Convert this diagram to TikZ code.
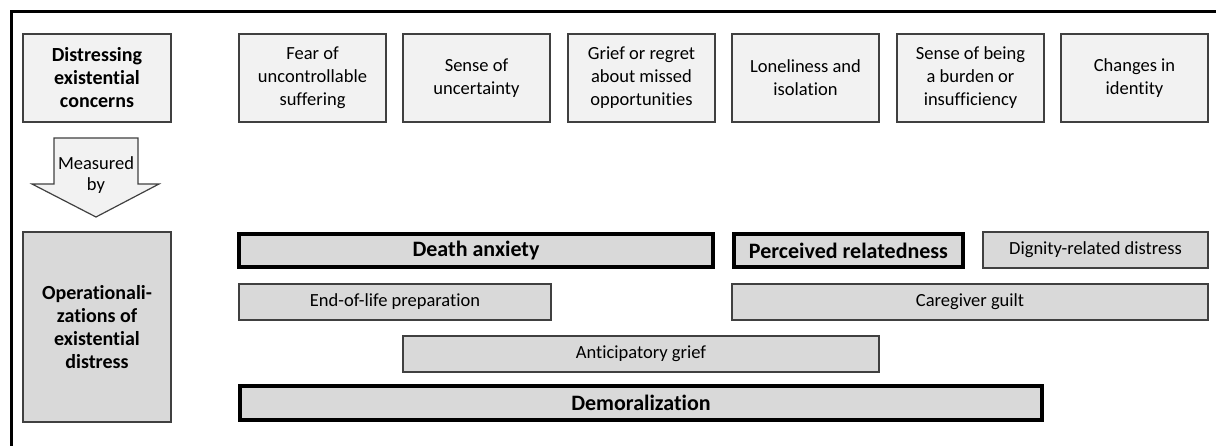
\documentclass[tikz,border=0pt]{standalone}
\usepackage{fontspec}
\setmainfont{Carlito}[Ligatures=NoCommon]
\definecolor{lightfill}{HTML}{F2F2F2}
\definecolor{midfill}{HTML}{D9D9D9}
\definecolor{edge}{HTML}{404040}
\tikzset{
  base/.style={draw=edge, line width=1.3pt, align=center, inner sep=0pt, text=black,
    font=\fontsize{18.5}{23}\selectfont},
  topbox/.style={base, fill=lightfill, minimum width=147pt, minimum height=88pt},
  lowbox/.style={base, fill=midfill, minimum height=36pt},
  heavy/.style={lowbox, draw=black, line width=3.5pt, font=\fontsize{22}{26}\selectfont\bfseries},
  leftbox/.style={base, minimum width=148pt, font=\fontsize{20}{23}\selectfont\bfseries}
}
\begin{document}
\begin{tikzpicture}[x=1pt,y=-1pt]
\useasboundingbox (0,0) rectangle (1216,446);
\draw[line width=3pt] (11,446) -- (11,12) -- (1216,12);
% left column
\node[leftbox, fill=lightfill, minimum height=88pt] (dec) at (97,78) {Distressing\\existential\\concerns};
\node[leftbox, fill=midfill, minimum height=190pt] (oed) at (97,327) {Operationali-\\zations of\\existential\\distress};
\draw[draw=edge, line width=1.2pt, fill=lightfill]
  (54,138) -- (138,138) -- (138,184) -- (159,184) -- (96,217) -- (32,184) -- (54,184) -- cycle;
\node[align=center, font=\fontsize{18.5}{21}\selectfont] (meas) at (96,175) {Measured\\by};
% top row
\node[topbox] (c1) at (312.5,78) {Fear of\\uncontrollable\\suffering};
\node[topbox] (c2) at (476.5,78) {Sense of\\uncertainty};
\node[topbox] (c3) at (641.5,78) {Grief or regret\\about missed\\opportunities};
\node[topbox] (c4) at (805.5,78) {Loneliness and\\isolation};
\node[topbox] (c5) at (970.5,78) {Sense of being\\a burden or\\insufficiency};
\node[topbox] (c6) at (1134.5,78) {Changes in\\identity};
% operationalizations
\node[heavy, minimum width=474pt, minimum height=33pt] (da) at (476,250.5) {Death anxiety};
\node[heavy, minimum width=229pt, minimum height=33pt] (pr) at (848.5,250.5) {Perceived relatedness};
\node[lowbox, minimum width=225pt] (dd) at (1095.5,250) {Dignity-related distress};
\node[lowbox, minimum width=312pt] (eol) at (395,302) {End-of-life preparation};
\node[lowbox, minimum width=476pt] (cg) at (970,302) {Caregiver guilt};
\node[lowbox, minimum width=476pt] (ag) at (641,354) {Anticipatory grief};
\node[heavy, minimum width=802pt, minimum height=34pt] (dm) at (641,403) {Demoralization};
\end{tikzpicture}
\end{document}
